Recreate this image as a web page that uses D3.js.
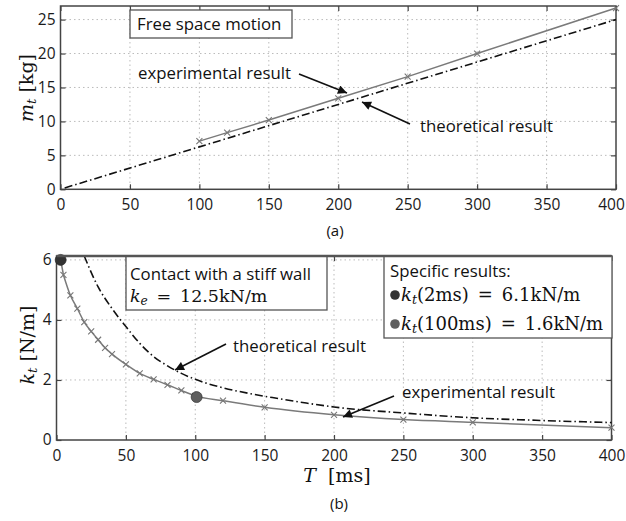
<!DOCTYPE html>
<html><head><meta charset="utf-8">
<script src="https://cdn.jsdelivr.net/npm/d3@7"></script>
<style>
body{margin:0;background:#fff;}
svg{display:block;}
.tick text{font-family:"Open Sans",sans-serif;font-size:15.5px;fill:#1a1a1a;}
</style></head>
<body><svg id="c" width="626" height="521"></svg>
<script>
// ---- data ----
const xTicks = [0,50,100,150,200,250,300,350,400];
const mTicks = [0,5,10,15,20,25];
const kTicks = [0,2,4,6];

// (a) free space motion
const massExpT = [100,120,150,200,250,300,400];
const massExpV = [7.1,8.35,10.2,13.4,16.6,20.0,26.7];
const massTheoT = [3,100,200,300,400];
const massTheoV = [0.2,6.25,12.5,18.75,25.0];

// (b) contact with a stiff wall
const kExpT = [3,5,10,15,20,25,30,35,40,50,60,70,80,90,100,120,150,200,250,300,400];
const kExpV = [6.0,5.5,4.82,4.38,3.93,3.62,3.34,3.07,2.86,2.52,2.22,2.02,1.84,1.65,1.47,1.31,1.09,0.84,0.68,0.59,0.41];
const kTheoT = [20,30,40,50,60,70,80,90,100,120,140,160,180,200,250,300,350,400];
const kTheoV = [6.13,5.1,4.38,3.78,3.22,2.78,2.47,2.22,2.02,1.74,1.54,1.38,1.23,1.1,0.9,0.74,0.65,0.58];
const specT = [3,101];
const specV = [6.0,1.43];
const specColors = ["#333","#5e5e5e"];

const svg = d3.select("#c");
const gridColor = "#bbb", axisColor = "#444";

function panel(cfg){
  const x = d3.scaleLinear().domain([0,400]).range([cfg.left,cfg.right]);
  const y = d3.scaleLinear().domain(cfg.ydom).range([cfg.bottom,cfg.top]);
  const g = svg.append("g");
  g.append("g").selectAll("line").data(xTicks.slice(1,-1)).join("line")
    .attr("x1",d=>x(d)).attr("x2",d=>x(d)).attr("y1",cfg.top).attr("y2",cfg.bottom)
    .attr("stroke",gridColor).attr("stroke-dasharray","1.5,3").attr("stroke-width",1);
  g.append("g").selectAll("line").data(cfg.yticks.filter(d=>d>cfg.ydom[0])).join("line")
    .attr("y1",d=>y(d)).attr("y2",d=>y(d)).attr("x1",cfg.left).attr("x2",cfg.right)
    .attr("stroke",gridColor).attr("stroke-dasharray","1.5,3").attr("stroke-width",1);
  const ax = g.append("g").attr("transform",`translate(0,${cfg.bottom})`)
    .call(d3.axisBottom(x).tickValues(xTicks).tickFormat(d3.format("d")).tickSize(-5).tickPadding(10));
  // keep the last label inside the page
  ax.selectAll(".tick text").filter(d=>d===400).attr("dx",cfg.lastShift||0);
  const ay = g.append("g").attr("transform",`translate(${cfg.left},0)`)
    .call(d3.axisLeft(y).tickValues(cfg.yticks).tickFormat(d3.format("d")).tickSize(-5).tickPadding(5));
  const axT = g.append("g").attr("transform",`translate(0,${cfg.top})`)
    .call(d3.axisTop(x).tickValues(xTicks).tickFormat("").tickSize(-5));
  const ayR = g.append("g").attr("transform",`translate(${cfg.right},0)`)
    .call(d3.axisRight(y).tickValues(cfg.yticks).tickFormat("").tickSize(-5));
  [ax,ay,axT,ayR].forEach(a=>{a.select(".domain").remove();a.selectAll("line").attr("stroke",axisColor).attr("stroke-width",1.2);});
  g.append("rect").attr("x",cfg.left).attr("y",cfg.top).attr("width",cfg.right-cfg.left).attr("height",cfg.bottom-cfg.top)
    .attr("fill","none").attr("stroke",axisColor).attr("stroke-width",1.5);
  return {x,y,g};
}

const A = panel({left:60.5,right:616,top:6,bottom:189.3,ydom:[0,27],yticks:mTicks,lastShift:-5});
const B = panel({left:56.5,right:611.5,top:256,bottom:440,ydom:[0,6.13],yticks:kTicks});

function drawLines(P, expT, expV, theoT, theoV, curve){
  const line = d3.line().x(d=>P.x(d[0])).y(d=>P.y(d[1])).curve(curve);
  const theo = theoT.map((t,i)=>[t,theoV[i]]);
  const exp = expT.map((t,i)=>[t,expV[i]]);
  P.g.append("path").attr("d",line(theo)).attr("fill","none").attr("stroke","#111")
    .attr("stroke-width",1.6).attr("stroke-dasharray","8,3,1.5,3");
  P.g.append("path").attr("d",line(exp)).attr("fill","none").attr("stroke","#7a7a7a").attr("stroke-width",1.5);
  P.g.append("g").selectAll("path").data(exp).join("path")
    .attr("d",d=>{const cx=P.x(d[0]),cy=P.y(d[1]),s=3;return `M${cx-s},${cy-s}L${cx+s},${cy+s}M${cx-s},${cy+s}L${cx+s},${cy-s}`;})
    .attr("stroke","#777").attr("stroke-width",1.1);
}
drawLines(A, massExpT, massExpV, massTheoT, massTheoV, d3.curveLinear);
drawLines(B, kExpT.slice(1), kExpV.slice(1), kTheoT, kTheoV, d3.curveMonotoneX);
B.g.append("path").attr("d",d3.line()([[B.x(kExpT[0]),B.y(kExpV[0])],[B.x(kExpT[1]),B.y(kExpV[1])]]))
  .attr("stroke","#7a7a7a").attr("stroke-width",1.5);

B.g.selectAll("circle.sp").data(specT).join("circle").attr("class","sp")
  .attr("cx",(d)=>B.x(d)).attr("cy",(d,i)=>B.y(specV[i])).attr("r",5.5)
  .attr("fill",(d,i)=>specColors[i]).attr("stroke","#222").attr("stroke-width",0.6);

svg.append("defs").append("marker").attr("id","ah").attr("viewBox","0 0 10 10").attr("refX",10).attr("refY",5)
  .attr("markerWidth",12).attr("markerHeight",9).attr("markerUnits","userSpaceOnUse").attr("orient","auto")
  .append("path").attr("d","M0,0L10,5L0,10z").attr("fill","#111");
function arrow(x1,y1,x2,y2){
  svg.append("line").attr("x1",x1).attr("y1",y1).attr("x2",x2).attr("y2",y2)
    .attr("stroke","#111").attr("stroke-width",1.6).attr("marker-end","url(#ah)");
}
const sans = "'Open Sans',sans-serif";
function label(x,y,t,anchor,size){
  return svg.append("text").attr("x",x).attr("y",y).attr("text-anchor",anchor||"start")
    .attr("font-family",sans).attr("font-size",size||16.8).attr("fill","#111").text(t);
}
const serif = "'DejaVu Serif',serif";
function mathText(x,y,parts,size){
  const t = svg.append("text").attr("x",x).attr("y",y).attr("font-family",serif).attr("font-size",size||17).attr("fill","#111")
    .style("white-space","pre");
  parts.forEach(p=>{
    const s = t.append("tspan").text(p.t);
    if(p.i) s.attr("font-style","italic");
    if(p.sub) s.attr("baseline-shift","-25%").attr("font-size",(size||17)*0.7);
  });
  return t;
}
const EQ = "\u2002=\u2002";

// (a) annotations
svg.append("rect").attr("x",130).attr("y",10).attr("width",162).attr("height",28)
  .attr("fill","#fff").attr("stroke","#555").attr("stroke-width",1.3);
label(137,30,"Free space motion");
label(138,79,"experimental result");
arrow(299,74,347,93);
label(420,132,"theoretical result");
arrow(410,124,362,102);

// (b) annotations
svg.append("rect").attr("x",126).attr("y",256).attr("width",201).attr("height",54)
  .attr("fill","#fff").attr("stroke","#555").attr("stroke-width",1.3);
label(130,280,"Contact with a stiff wall");
mathText(130,302,[{t:"k",i:1},{t:"e",i:1,sub:1},{t:EQ+"12.5kN/m"}],17.5);

svg.append("rect").attr("x",384).attr("y",256).attr("width",228).attr("height",82)
  .attr("fill","#fff").attr("stroke","#555").attr("stroke-width",1.3);
label(390,277,"Specific results:");
svg.selectAll("circle.lg").data(specColors).join("circle").attr("class","lg")
  .attr("cx",395).attr("cy",(d,i)=>295+i*29).attr("r",4.8).attr("fill",d=>d);
mathText(401,301,[{t:"k",i:1},{t:"t",i:1,sub:1},{t:"(2ms)"+EQ+"6.1kN/m"}],18);
mathText(401,330,[{t:"k",i:1},{t:"t",i:1,sub:1},{t:"(100ms)"+EQ+"1.6kN/m"}],18);

label(233,352,"theoretical result");
arrow(226,344,175,370);
label(402,398,"experimental result");
arrow(394,396,343,417);

svg.append("line").attr("x1",56.5).attr("x2",611.5).attr("y1",256).attr("y2",256).attr("stroke","#555").attr("stroke-width",2.5);

// axis titles
mathText(0,0,[{t:"m",i:1},{t:"t",i:1,sub:1},{t:" [kg]"}],19).attr("text-anchor","middle")
  .attr("transform","translate(33,88) rotate(-90)");
mathText(0,0,[{t:"k",i:1},{t:"t",i:1,sub:1},{t:" [N/m]"}],19).attr("text-anchor","middle")
  .attr("transform","translate(34,345) rotate(-90)");
mathText(337,482,[{t:"T",i:1},{t:"  [ms]"}],19).attr("text-anchor","middle");
label(335,236,"(a)","middle",15);
label(339,509,"(b)","middle",15);
</script></body></html>
